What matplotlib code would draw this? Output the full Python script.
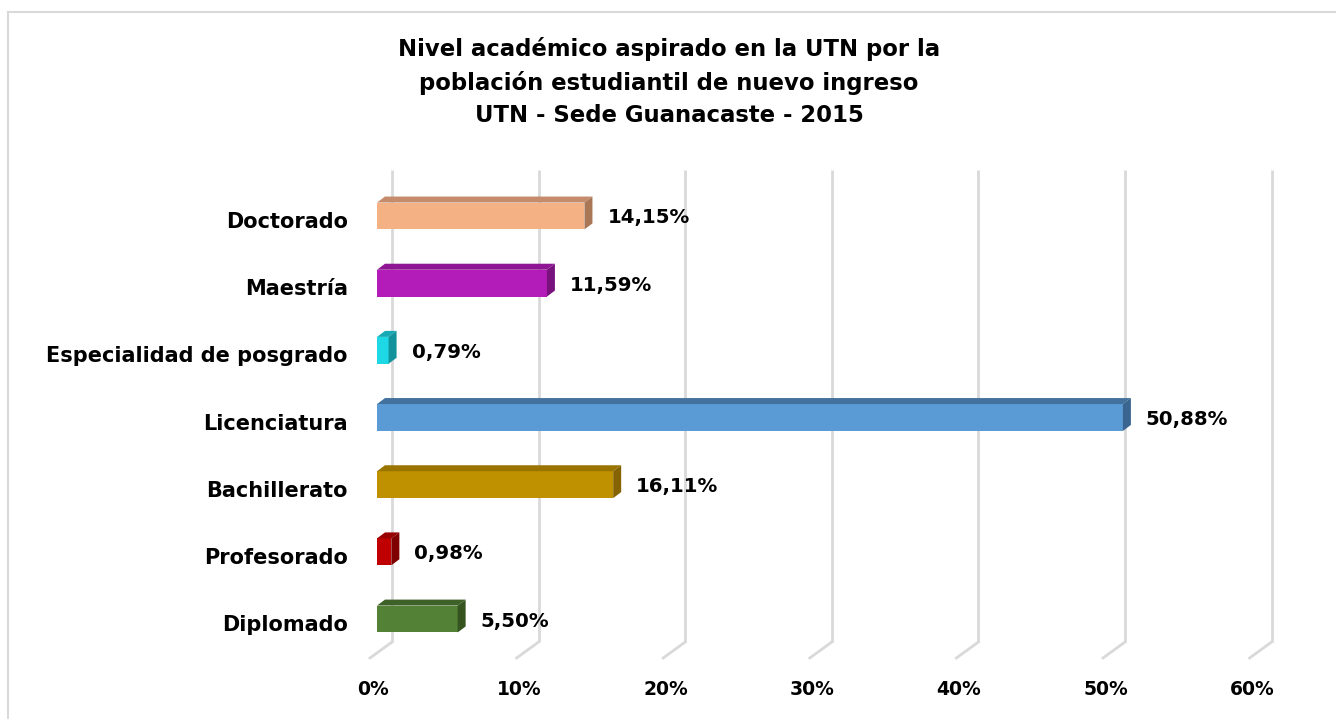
import matplotlib
matplotlib.use("Agg")
from matplotlib import pyplot as plt
from matplotlib.patches import Polygon
import numpy as np

# categories from top to bottom
categories = ['Doctorado', 'Maestría', 'Especialidad de posgrado', 'Licenciatura',
              'Bachillerato', 'Profesorado', 'Diplomado']
values = [14.15, 11.59, 0.79, 50.88, 16.11, 0.98, 5.50]
value_labels = ['14,15%', '11,59%', '0,79%', '50,88%', '16,11%', '0,98%', '5,50%']
ticks = [0, 10, 20, 30, 40, 50, 60]
tick_labels = ['0%', '10%', '20%', '30%', '40%', '50%', '60%']

title = ('Nivel académico aspirado en la UTN por la\n'
         'población estudiantil de nuevo ingreso\n'
         'UTN - Sede Guanacaste - 2015')

# front, top and side colours for each bar
front_colors = ['#F4B183', '#B41CB9', '#1ED8E6', '#5B9BD5', '#BF9000', '#C00000', '#538135']
top_colors = ['#C58B6A', '#8F1693', '#17AAB5', '#41719C', '#9A7400', '#990000', '#3E6128']
side_colors = ['#A97656', '#7A127E', '#12939C', '#3A6590', '#846300', '#800000', '#35541F']

W, H = 1336, 719
fig = plt.figure(figsize=(W / 100, H / 100), dpi=100)
fig.patch.set_facecolor('white')

# px per percent and px per category row
px_x = 14.66
px_y = 67.2
left_px, top_px, bottom_px = 377, 170, 642
y_top = -(216 - top_px) / px_y
y_bot = 6 + (bottom_px - 619) / px_y
width_px = 60 * px_x
ax = fig.add_axes([left_px / W, 1 - bottom_px / H, width_px / W, (bottom_px - top_px) / H])
ax.set_xlim(0, 60)
ax.set_ylim(y_bot, y_top)
ax.axis('off')

# depth of the 3d effect in data units
dx = 8 / px_x
dy = -6 / px_y
back = 15 / px_x
floor_dx = -22 / px_x
floor_dy = 16 / px_y

# gridlines on the back wall plus the floor edge
for t in ticks:
    ax.plot([t + back, t + back], [y_top, y_bot], color='#D9D9D9', lw=2, zorder=1,
            solid_capstyle='butt', clip_on=False)
    ax.plot([t + back, t + back + floor_dx], [y_bot, y_bot + floor_dy], color='#D9D9D9',
            lw=2, zorder=1, clip_on=False)

ypos = np.arange(len(categories))
h = 0.4
ax.barh(ypos, values, height=h, color=front_colors, zorder=3)
for y, v, tc, sc in zip(ypos, values, top_colors, side_colors):
    yt = y - h / 2
    yb = y + h / 2
    top = Polygon([[0, yt], [v, yt], [v + dx, yt + dy], [dx, yt + dy]], closed=True,
                  facecolor=tc, edgecolor='none', zorder=3)
    side = Polygon([[v, yt], [v + dx, yt + dy], [v + dx, yb + dy], [v, yb]], closed=True,
                   facecolor=sc, edgecolor='none', zorder=3)
    ax.add_patch(top)
    ax.add_patch(side)

font = 'DejaVu Sans'
for y, v, lab in zip(ypos, values, value_labels):
    ax.text(v + 23 / px_x, y + 0.03, lab, ha='left', va='center', fontsize=14.2,
            fontweight='bold', family=font, clip_on=False)

for y, cat in zip(ypos, categories):
    ax.text(-29 / px_x, y + 0.09, cat, ha='right', va='center', fontsize=15,
            fontweight='bold', family=font, clip_on=False)

for t, lab in zip(ticks, tick_labels):
    ax.text(t - 0.3, y_bot + 48 / px_y, lab, ha='center', va='center', fontsize=13.5,
            fontweight='bold', family=font, clip_on=False)

fig.text(669 / W, 1 - 82 / H, title, ha='center', va='center', fontsize=16.4,
         fontweight='bold', family=font, linespacing=1.5)

# chart frame
fig.add_artist(plt.Line2D([8 / W, 8 / W], [0, 1 - 12 / H], color='#D9D9D9', lw=1.5))
fig.add_artist(plt.Line2D([8 / W, 1], [1 - 12 / H, 1 - 12 / H], color='#D9D9D9', lw=1.5))

fig.savefig('out.png', dpi=100)
